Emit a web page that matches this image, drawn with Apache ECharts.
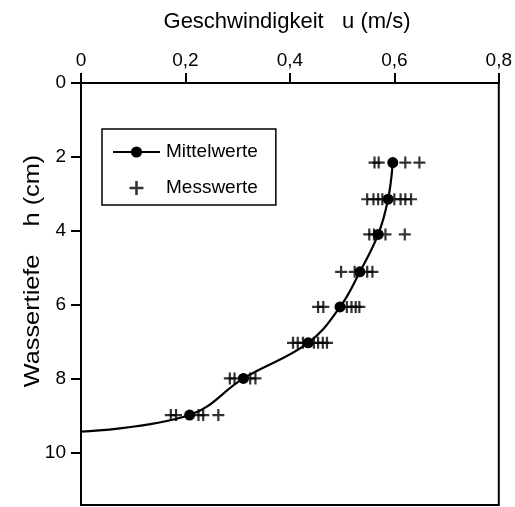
<!DOCTYPE html>
<html>
<head>
<meta charset="utf-8">
<script src="https://cdn.jsdelivr.net/npm/echarts@6/dist/echarts.min.js"></script>
<style>html,body{margin:0;padding:0;background:#fff}#c{width:515px;height:507px}</style>
</head>
<body>
<div id="c"></div>
<script>
// Depths of the measuring rows (cm)
var depths = [2.15, 3.14, 4.09, 5.10, 6.05, 7.02, 7.98, 8.97];
// Mean velocities (m/s)
var meanU = [0.597, 0.588, 0.569, 0.534, 0.496, 0.435, 0.311, 0.208];
// Curve end at the bed
var bedU = 0;
var bedH = 9.42;
// Single measurements per row (m/s)
var measuredU = [
  [0.562, 0.570, 0.621, 0.648],
  [0.548, 0.560, 0.569, 0.577, 0.600, 0.612, 0.621, 0.632],
  [0.552, 0.561, 0.583, 0.620],
  [0.498, 0.524, 0.548, 0.558],
  [0.454, 0.464, 0.509, 0.518, 0.526, 0.533],
  [0.406, 0.415, 0.425, 0.446, 0.454, 0.463, 0.471],
  [0.285, 0.294, 0.324, 0.334],
  [0.172, 0.182, 0.225, 0.234, 0.263]
];
var xTicks = [0, 0.2, 0.4, 0.6, 0.8];
var yTicks = [0, 2, 4, 6, 8, 10];

var lineData = depths.map(function (h, i) { return [meanU[i], h]; });
lineData.push({ value: [bedU, bedH], symbol: 'none' });
var scatterData = [];
measuredU.forEach(function (row, i) {
  row.forEach(function (u) { scatterData.push([u, depths[i]]); });
});

var FONT = 'Liberation Sans, Arial, sans-serif';
var plus = 'path://M4.9,0H7.1V4.9H12V7.1H7.1V12H4.9V7.1H0V4.9H4.9Z';

var chart = echarts.init(document.getElementById('c'), null, { renderer: 'canvas' });
chart.setOption({
  animation: false,
  backgroundColor: '#fff',
  grid: {
    left: 81, right: 12, top: 83, bottom: 2,
    show: true, borderColor: '#000', borderWidth: 2, backgroundColor: 'transparent'
  },
  legend: {
    left: 102, top: 129,
    orient: 'vertical',
    padding: [13, 18, 7, 10],
    itemGap: 16,
    itemWidth: 47,
    itemHeight: 14,
    borderColor: '#000',
    borderWidth: 1.5,
    borderRadius: 0,
    backgroundColor: '#fff',
    textStyle: { fontFamily: FONT, fontSize: 19, color: '#000', lineHeight: 20, padding: [0, 0, 0, 1] },
    data: ['Mittelwerte', 'Messwerte']
  },
  xAxis: {
    type: 'value',
    position: 'top',
    min: 0, max: 0.8, interval: 0.2,
    axisLine: { show: true, lineStyle: { color: '#000', width: 2 } },
    axisTick: { show: true, inside: false, length: 10, lineStyle: { color: '#000', width: 2 }, customValues: xTicks },
    axisLabel: {
      fontFamily: FONT, fontSize: 19, color: '#000', margin: 13,
      customValues: xTicks,
      formatter: function (v) { return String(Math.round(v * 10) / 10).replace('.', ','); }
    },
    splitLine: { show: false }
  },
  yAxis: {
    type: 'value',
    inverse: true,
    min: 0, max: 11.4, interval: 2,
    axisLine: { show: true, lineStyle: { color: '#000', width: 2 } },
    axisTick: { show: true, inside: false, length: 10, lineStyle: { color: '#000', width: 2 }, customValues: yTicks },
    axisLabel: {
      fontFamily: FONT, fontSize: 19, color: '#000', margin: 15,
      customValues: yTicks
    },
    splitLine: { show: false }
  },
  graphic: [
    {
      type: 'text', x: 287, y: 22, silent: true,
      style: { text: 'Geschwindigkeit   u (m/s)', fontFamily: FONT, fontSize: 22, fill: '#000', textAlign: 'center', textVerticalAlign: 'middle' }
    },
    {
      type: 'text', x: 33, y: 271, rotation: Math.PI / 2, scaleX: 1.15, silent: true,
      style: { text: 'Wassertiefe    h (cm)', fontFamily: FONT, fontSize: 22, fill: '#000', textAlign: 'center', textVerticalAlign: 'middle' }
    }
  ],
  series: [
    {
      name: 'Messwerte',
      type: 'scatter',
      symbol: plus,
      symbolSize: 12,
      symbolKeepAspect: true,
      itemStyle: { color: '#000' },
      data: scatterData,
      z: 2
    },
    {
      name: 'Mittelwerte',
      type: 'line',
      smooth: 0.4,
      symbol: 'circle',
      symbolSize: 11,
      showAllSymbol: true,
      lineStyle: { color: '#000', width: 2.2 },
      itemStyle: { color: '#000' },
      data: lineData,
      z: 3
    }
  ]
});
</script>
</body>
</html>
